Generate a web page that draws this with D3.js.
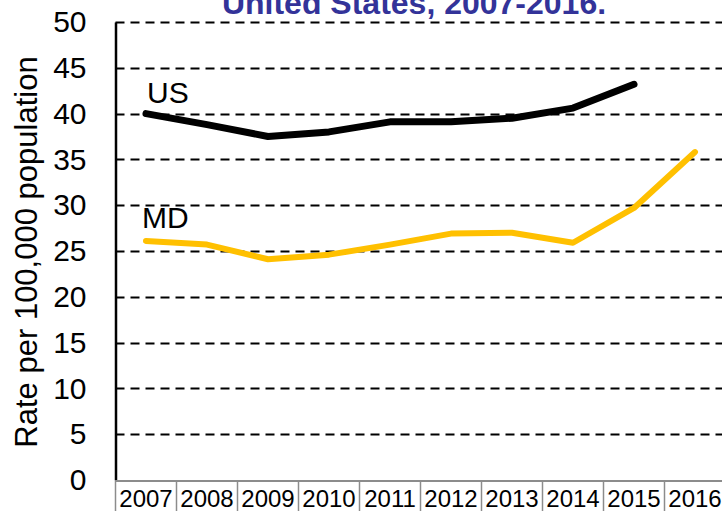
<!DOCTYPE html>
<html>
<head>
<meta charset="utf-8">
<script src="https://cdn.jsdelivr.net/npm/d3@7"></script>
<style>
  html, body { margin: 0; padding: 0; background: #fff; }
  svg { display: block; font-family: "Liberation Sans", Arial, sans-serif; }
</style>
</head>
<body>
<svg id="chart" width="722" height="511"></svg>
<script>
// Rates per 100,000 population, 2007-2016
const years = ["2007", "2008", "2009", "2010", "2011", "2012", "2013", "2014", "2015", "2016"];
const usRates = [40.0, 38.8, 37.5, 38.0, 39.1, 39.1, 39.5, 40.6, 43.2, null];
const mdRates = [26.1, 25.7, 24.1, 24.6, 25.7, 26.9, 27.0, 25.9, 29.7, 35.8];
const yTicks = [0, 5, 10, 15, 20, 25, 30, 35, 40, 45, 50];
const titleText = "United States, 2007-2016.";
const yTitle = "Rate per 100,000 population";

(function draw() {
  const svg = d3.select("#chart");
  const plotLeft = 115.5, plotRight = 725.5, plotTop = 22, plotBottom = 480;

  const x = d3.scaleBand().domain(years).range([plotLeft, plotRight]).paddingInner(0).paddingOuter(0);
  const cx = d => x(d) + x.bandwidth() / 2;
  const y = d3.scaleLinear().domain([0, 50]).range([plotBottom, plotTop]);

  // Title (last line)
  svg.append("text")
    .attr("x", 414).attr("y", 14)
    .attr("text-anchor", "middle")
    .attr("font-size", 32).attr("font-weight", "bold")
    .attr("fill", "#333399")
    .text(titleText);

  // Dashed gridlines
  svg.append("g").selectAll("line")
    .data(yTicks.filter(t => t > 0))
    .join("line")
    .attr("x1", plotLeft).attr("x2", 722)
    .attr("y1", d => Math.round(y(d)) + 0.5).attr("y2", d => Math.round(y(d)) + 0.5)
    .attr("stroke", "#000").attr("stroke-width", 2)
    .attr("stroke-dasharray", "9,6");

  // Y axis via d3.axisLeft, styled
  const yAxis = svg.append("g")
    .attr("transform", `translate(${plotLeft},0)`)
    .call(d3.axisLeft(y).tickValues(yTicks).tickSize(0).tickPadding(29).tickFormat(d3.format("d")));
  yAxis.select(".domain").attr("stroke", "#000").attr("stroke-width", 2.5);
  yAxis.selectAll("text")
    .attr("font-size", 30).attr("fill", "#000")
    .attr("font-family", "Liberation Sans, Arial, sans-serif");

  // Y axis title
  svg.append("text")
    .attr("transform", "translate(37,252) rotate(-90)")
    .attr("text-anchor", "middle")
    .attr("font-size", 31).attr("fill", "#000")
    .text(yTitle);

  // Category table under the plot
  svg.append("line")
    .attr("x1", plotLeft).attr("x2", 722)
    .attr("y1", plotBottom + 1).attr("y2", plotBottom + 1)
    .attr("stroke", "#8c8c8c").attr("stroke-width", 2);
  svg.append("g").selectAll("line")
    .data(years)
    .join("line")
    .attr("x1", d => x(d)).attr("x2", d => x(d))
    .attr("y1", plotBottom + 1).attr("y2", 511)
    .attr("stroke", "#8c8c8c").attr("stroke-width", 1.5);
  svg.append("g").selectAll("text")
    .data(years)
    .join("text")
    .attr("x", d => cx(d)).attr("y", 507)
    .attr("text-anchor", "middle")
    .attr("font-size", 24).attr("fill", "#000")
    .text(d => d);

  // Series lines
  const line = d3.line()
    .defined(d => d.v != null)
    .x(d => cx(d.year))
    .y(d => y(d.v));

  const toPts = arr => years.map((yr, i) => ({ year: yr, v: arr[i] }));

  svg.append("path")
    .datum(toPts(mdRates))
    .attr("d", line)
    .attr("fill", "none").attr("stroke", "#FFC000")
    .attr("stroke-width", 6).attr("stroke-linecap", "round").attr("stroke-linejoin", "round");

  svg.append("path")
    .datum(toPts(usRates))
    .attr("d", line)
    .attr("fill", "none").attr("stroke", "#000")
    .attr("stroke-width", 7).attr("stroke-linecap", "round").attr("stroke-linejoin", "round");

  // Series labels
  svg.append("text").attr("x", 147).attr("y", 103)
    .attr("font-size", 30).attr("fill", "#000").text("US");
  svg.append("text").attr("x", 142).attr("y", 228)
    .attr("font-size", 30).attr("fill", "#000").text("MD");
})();
</script>
</body>
</html>
